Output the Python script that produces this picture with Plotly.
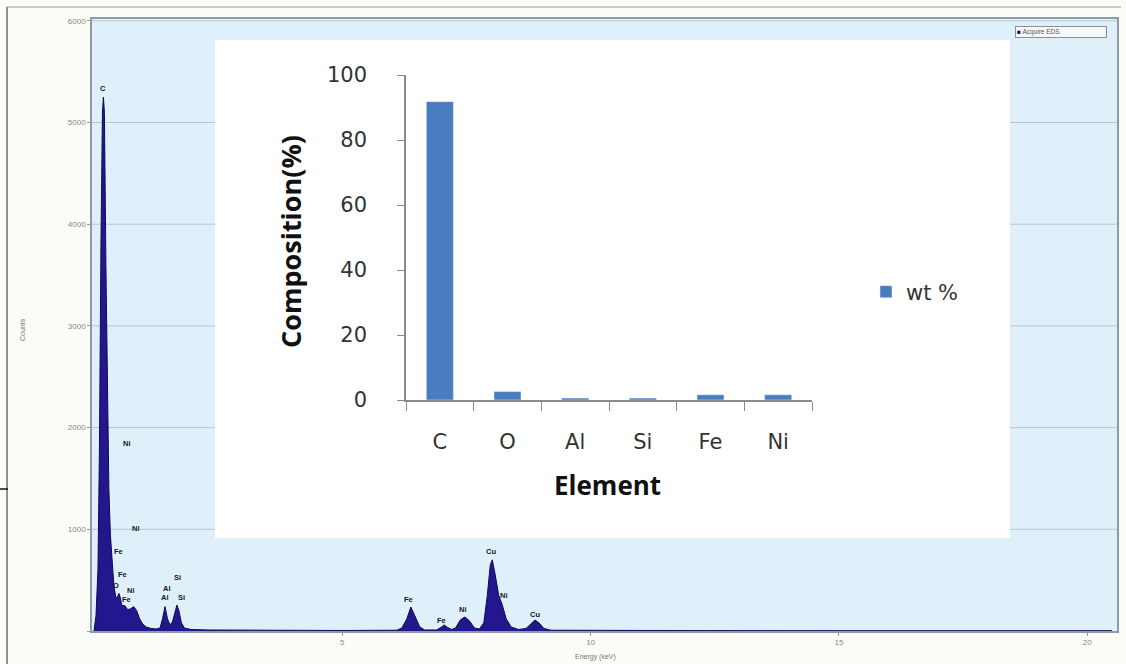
import plotly.graph_objects as go

# ---------------- data ----------------
# EDS spectrum (energy keV, counts)
energy = [0.00, 0.04, 0.08, 0.11, 0.14, 0.17, 0.19, 0.21, 0.24, 0.27, 0.30, 0.33, 0.36, 0.40,
          0.44, 0.47, 0.50, 0.53, 0.56, 0.62, 0.68, 0.74, 0.80, 0.86, 0.92, 0.98, 1.05, 1.15,
          1.25, 1.33, 1.38, 1.43, 1.48, 1.53, 1.58, 1.63, 1.67, 1.71, 1.76, 1.82, 1.95, 2.30,
          3.00, 3.25, 3.35, 4.00, 5.00, 6.10, 6.20, 6.30, 6.38, 6.46, 6.56, 6.66, 6.90, 7.00,
          7.05, 7.12, 7.20, 7.28, 7.38, 7.47, 7.56, 7.66, 7.76, 7.85, 7.92, 7.98, 8.02, 8.08,
          8.15, 8.22, 8.30, 8.40, 8.55, 8.70, 8.80, 8.88, 8.96, 9.06, 9.20, 10.0, 12.0, 15.0,
          18.0, 20.5]
counts = [0, 150, 600, 1800, 3800, 5100, 5250, 5100, 3600, 2200, 1400, 950, 700, 450,
          330, 330, 370, 330, 250, 250, 210, 220, 240, 200, 120, 70, 40, 25,
          20, 30, 120, 240, 120, 60, 90, 200, 255, 200, 80, 30, 15, 10,
          8, 12, 8, 6, 5, 8, 30, 120, 236, 150, 40, 10, 10, 40,
          60, 35, 15, 30, 110, 138, 100, 30, 20, 80, 350, 650, 700, 550,
          350, 260, 120, 40, 15, 25, 70, 108, 80, 25, 8, 5, 4, 3,
          3, 3]

# peak labels (text, energy keV, counts)
peak_text = ["C", "Ni", "Ni", "Fe", "Fe", "O", "Ni", "Fe", "Si", "Al", "Al", "Si",
             "Fe", "Fe", "Ni", "Cu", "Ni", "Cu"]
peak_e = [0.18, 0.66, 0.85, 0.50, 0.58, 0.44, 0.74, 0.66, 1.69, 1.47, 1.43, 1.77,
          6.34, 6.99, 7.43, 7.99, 8.25, 8.88]
peak_c = [5330, 1840, 1010, 780, 560, 450, 400, 305, 530, 420, 325, 325,
          305, 108, 216, 777, 354, 167]

spec_yticks = [1000, 2000, 3000, 4000, 5000, 6000]
spec_xticks = [5, 10, 15, 20]

# inset composition
elements = ["C", "O", "Al", "Si", "Fe", "Ni"]
wt_pct = [91.8, 2.6, 0.6, 0.6, 1.6, 1.6]
comp_ticks = [0, 20, 40, 60, 80, 100]

# ---------------- layout helpers ----------------
W, H = 1126, 664
def px(x):
    return x / W
def py(y):
    return 1 - y / H

main_x = [px(92), px(1117)]
main_y = [py(631), py(19)]
inset_x = [px(406), px(812)]
inset_y = [py(400), py(75)]

fig = go.Figure()

fig.add_trace(go.Scatter(
    x=energy, y=counts, mode="lines", fill="tozeroy",
    line=dict(color="#0f0b52", width=1), fillcolor="#22178f",
    showlegend=False, hoverinfo="x+y", xaxis="x", yaxis="y"))

fig.add_trace(go.Bar(
    x=elements, y=wt_pct, name="wt %", marker=dict(color="#4a7dc0"),
    xaxis="x2", yaxis="y2", showlegend=True))

shapes = []
# light-blue plot area of spectrum
shapes.append(dict(type="rect", xref="paper", yref="paper",
                   x0=main_x[0], x1=main_x[1], y0=main_y[0], y1=main_y[1],
                   fillcolor="#e0f0fa", line=dict(width=0), layer="below"))
# spectrum gridlines
for v in spec_yticks:
    shapes.append(dict(type="line", xref="paper", yref="y",
                       x0=main_x[0], x1=main_x[1], y0=v, y1=v,
                       line=dict(color="#b8c6d0", width=1), layer="below"))
# white inset box
shapes.append(dict(type="rect", xref="paper", yref="paper",
                   x0=px(215), x1=px(1010), y0=py(538), y1=py(40),
                   fillcolor="#ffffff", line=dict(width=0), layer="below"))
# outer frame
shapes.append(dict(type="line", xref="paper", yref="paper",
                   x0=px(7), x1=px(7), y0=0, y1=py(7),
                   line=dict(color="#6e6e6e", width=1.5)))
shapes.append(dict(type="line", xref="paper", yref="paper",
                   x0=px(7), x1=px(1121), y0=py(7), y1=py(7),
                   line=dict(color="#9a9a9a", width=1)))
shapes.append(dict(type="line", xref="paper", yref="paper",
                   x0=0, x1=px(8), y0=py(489), y1=py(489),
                   line=dict(color="#111111", width=1.5)))

annotations = []
for t, e, c in zip(peak_text, peak_e, peak_c):
    annotations.append(dict(text="<b>" + t + "</b>", x=e, y=c, xref="x", yref="y",
                            showarrow=False,
                            font=dict(size=7.5, color="#15152a", family="Liberation Sans"),
                            xanchor="center", yanchor="middle"))
# spectrum legend box
annotations.append(dict(text="<span style='color:#10104a'>■</span> Acquire EDS",
                        x=px(1015), y=py(26), xref="paper", yref="paper",
                        xanchor="left", yanchor="top", showarrow=False,
                        font=dict(size=6.5, color="#555555", family="Liberation Sans"),
                        bgcolor="#f6f9fb", bordercolor="#8f8f8f", borderwidth=1,
                        borderpad=1, width=88, align="left"))
# spectrum axis titles
annotations.append(dict(text="Counts", x=px(22), y=py(330), xref="paper", yref="paper",
                        xanchor="center", yanchor="middle",
                        textangle=-90, showarrow=False,
                        font=dict(size=7, color="#777777", family="Liberation Sans")))
annotations.append(dict(text="Energy (keV)", x=px(595), y=py(657), xref="paper", yref="paper",
                        xanchor="center", yanchor="middle", showarrow=False,
                        font=dict(size=7, color="#777777", family="Liberation Sans")))
# inset titles
annotations.append(dict(text="<b>Composition(%)</b>", x=px(290), y=py(242),
                        xref="paper", yref="paper", textangle=-90, showarrow=False,
                        xanchor="center", yanchor="middle",
                        font=dict(size=27, color="#111111", family="Open Sans")))
annotations.append(dict(text="<b>Element</b>", x=px(607), y=py(485),
                        xref="paper", yref="paper", showarrow=False,
                        xanchor="center", yanchor="middle",
                        font=dict(size=26, color="#111111", family="Open Sans")))

fig.update_layout(
    width=W, height=H, margin=dict(l=0, r=0, t=0, b=0, autoexpand=False),
    paper_bgcolor="#fcfcf6", plot_bgcolor="rgba(0,0,0,0)",
    shapes=shapes, annotations=annotations, bargap=0.6,
    xaxis=dict(domain=main_x, range=[-0.04, 20.6], tickvals=spec_xticks,
               automargin=False,
               showgrid=False, zeroline=False, showline=True, mirror=True,
               linecolor="#8d9ba6", linewidth=1.5, ticks="outside", ticklen=3,
               tickcolor="#8d9ba6",
               tickfont=dict(size=8, color="#888888", family="Liberation Sans")),
    yaxis=dict(domain=main_y, range=[0, 6018], tickvals=[0] + spec_yticks,
               ticktext=[""] + [str(v) for v in spec_yticks], automargin=False,
               showgrid=False, zeroline=False, showline=True, mirror=True,
               linecolor="#8d9ba6", linewidth=1.5, ticks="outside", ticklen=3,
               tickcolor="#8d9ba6",
               tickfont=dict(size=8, color="#888888", family="Liberation Sans")),
    xaxis2=dict(domain=inset_x, anchor="y2", type="category", automargin=False,
                showgrid=False, zeroline=False, showline=True, linecolor="#8a8a8a",
                linewidth=1.5, ticks="outside", ticklen=9, tickcolor="#8a8a8a",
                tickson="boundaries", ticklabelstandoff=22,
                tickfont=dict(size=21, color="#333333", family="DejaVu Sans")),
    yaxis2=dict(domain=inset_y, anchor="x2", range=[0, 100], tickvals=comp_ticks,
                automargin=False,
                showgrid=False, zeroline=False, showline=True, linecolor="#8a8a8a",
                linewidth=1.5, ticks="outside", ticklen=7, tickcolor="#8a8a8a",
                ticklabelstandoff=26,
                tickfont=dict(size=21, color="#333333", family="DejaVu Sans")),
    legend=dict(x=px(866), y=py(292), xanchor="left", yanchor="middle",
                bgcolor="rgba(0,0,0,0)",
                font=dict(size=21, color="#333333", family="DejaVu Sans")),
)

fig.write_html("out.html")
